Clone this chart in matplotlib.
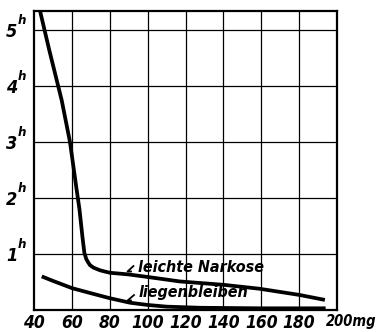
import matplotlib
matplotlib.use("Agg")
import matplotlib.pyplot as plt
from matplotlib import font_manager

# Dose (mg) against duration (hours)
narkose_mg = [43.2, 48.0, 54.6, 59.0, 62.3, 64.0, 65.6, 66.6, 67.6, 68.6, 69.6,
              71.5, 74.8, 77.0, 80.1, 90.0, 100.0, 117.0, 140.0, 159.0, 180.0, 193.6]
narkose_h = [5.34, 4.65, 3.75, 3.00, 2.20, 1.80, 1.30, 1.02, 0.91, 0.85, 0.80,
             0.755, 0.71, 0.69, 0.665, 0.635, 0.59, 0.51, 0.45, 0.38, 0.27, 0.18]

liegen_mg = [44.1, 50.0, 60.1, 70.0, 80.1, 90.7, 100.0, 110.0, 127.6, 160.0, 194.0]
liegen_h = [0.60, 0.52, 0.39, 0.30, 0.21, 0.13, 0.09, 0.06, 0.04, 0.03, 0.03]

x_ticks = [40, 60, 80, 100, 120, 140, 160, 180, 200]
x_labels = ["40", "60", "80", "100", "120", "140", "160", "180", ""]
y_ticks = [1, 2, 3, 4, 5]
y_labels = ["1", "2", "3", "4", "5"]

# prefer a narrow face for the lettering when one is installed
narrow = None
for f in font_manager.fontManager.ttflist:
    if f.stretch in ("condensed", "semi-condensed", "extra-condensed") or \
            "Narrow" in f.name or "Condensed" in f.name:
        narrow = f
        break
if narrow is not None:
    plt.rcParams["font.family"] = [narrow.name, "Liberation Sans", "DejaVu Sans"]
    stretch = narrow.stretch
else:
    plt.rcParams["font.family"] = ["Liberation Sans", "DejaVu Sans"]
    stretch = "normal"
plt.rcParams["font.stretch"] = stretch

fig = plt.figure(figsize=(3.77, 3.32), dpi=100)
ax = fig.add_axes([34 / 377, 22 / 332, 303 / 377, 299 / 332])
ax.set_xlim(40, 200)
ax.set_ylim(0, 5.34)

for s in ax.spines.values():
    s.set_linewidth(1.6)
    s.set_color("black")

for x in x_ticks[1:-1]:
    ax.axvline(x, color="black", lw=0.9, zorder=1)
for y in y_ticks:
    ax.axhline(y, color="black", lw=0.9, zorder=1)

ax.plot(narkose_mg, narkose_h, color="black", lw=2.7, solid_capstyle="butt",
        solid_joinstyle="round", zorder=3)
ax.plot(liegen_mg, liegen_h, color="black", lw=2.7, solid_capstyle="butt",
        solid_joinstyle="round", zorder=3)

tick_font = dict(fontsize=12.5, fontweight="bold", fontstyle="italic")
ax.set_xticks(x_ticks)
ax.set_xticklabels(x_labels, **tick_font)
ax.set_yticks(y_ticks)
ax.set_yticklabels(y_labels, fontsize=13, fontweight="bold", fontstyle="italic")
ax.tick_params(length=0)
ax.tick_params(axis="x", pad=3)
ax.tick_params(axis="y", pad=12)

for y in y_ticks:
    ax.annotate("h", xy=(0, y), xycoords=("axes fraction", "data"),
                xytext=(-11.5, 2.5), textcoords="offset points",
                fontsize=9.5, fontweight="bold", fontstyle="italic",
                ha="left", va="bottom")

ax.annotate("200mg", xy=(194.3, 0), xycoords=("data", "axes fraction"),
            xytext=(0, -3), textcoords="offset points", ha="left", va="top",
            fontsize=10.5, fontweight="bold", fontstyle="italic")

label_font = dict(fontsize=11.5, fontweight="bold", fontstyle="italic")
ax.text(94.9, 0.68, "leichte Narkose", ha="left", va="baseline", **label_font)
ax.text(95.4, 0.23, "liegenbleiben", ha="left", va="baseline", **label_font)

ax.plot([92.5, 89.4, 91.2], [0.785, 0.688, 0.688], color="black", lw=1.3, zorder=3)
ax.plot([92.8, 89.4, 91.2], [0.267, 0.169, 0.169], color="black", lw=1.3, zorder=3)

fig.savefig("out.png", dpi=100)
